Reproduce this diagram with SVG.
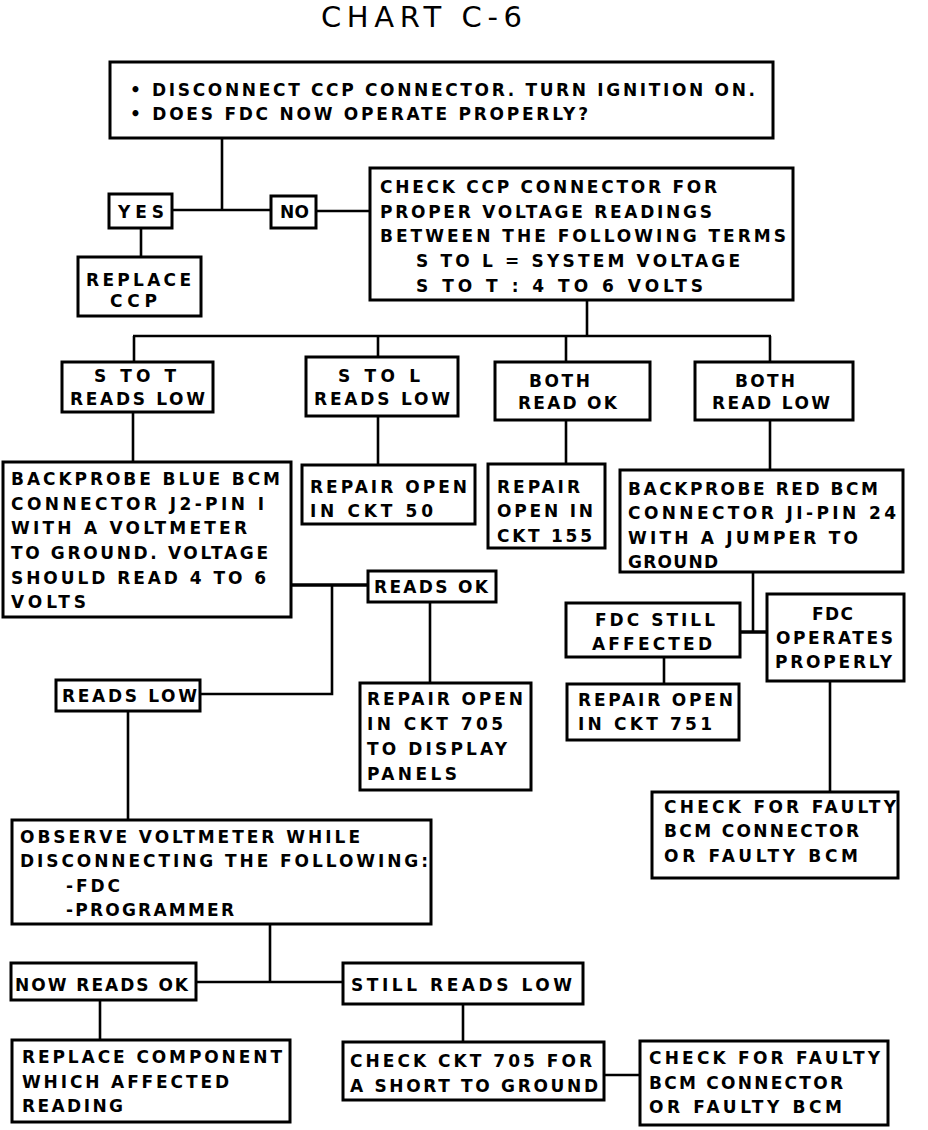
<svg xmlns="http://www.w3.org/2000/svg" width="928" height="1130" viewBox="0 0 928 1130">
<style>
rect.b{fill:#fff;stroke:#000;stroke-width:3}
.c line,.c polyline{stroke:#000;stroke-width:2.6;fill:none}
text{font-family:"DejaVu Sans","Liberation Sans",sans-serif;font-weight:bold;font-size:17px;fill:#000}
text.t{font-weight:normal;font-size:29px}
</style>
<rect width="928" height="1130" fill="#fff"/>
<text class="t" x="321" y="27" textLength="201" lengthAdjust="spacing">CHART C-6</text>
<g class="c" id="connectors">
<line x1="222" y1="138" x2="222" y2="210"/>
<line x1="172" y1="210" x2="271" y2="210"/>
<line x1="316" y1="211" x2="370" y2="211"/>
<line x1="141" y1="228" x2="141" y2="257"/>
<line x1="587" y1="300" x2="587" y2="336"/>
<line x1="133" y1="336" x2="771" y2="336"/>
<line x1="134" y1="336" x2="134" y2="362"/>
<line x1="378" y1="336" x2="378" y2="357"/>
<line x1="566" y1="336" x2="566" y2="362"/>
<line x1="770" y1="336" x2="770" y2="362"/>
<line x1="133" y1="412" x2="133" y2="462"/>
<line x1="378" y1="416" x2="378" y2="465"/>
<line x1="566" y1="420" x2="566" y2="464"/>
<line x1="770" y1="420" x2="770" y2="470"/>
<line x1="291" y1="585" x2="368" y2="585" style="stroke-width:3.5"/>
<polyline points="332,585 332,694 200,694"/>
<line x1="430" y1="602" x2="430" y2="683"/>
<line x1="753" y1="572" x2="753" y2="632"/>
<line x1="740" y1="632" x2="767" y2="632" style="stroke-width:3.5"/>
<line x1="664" y1="657" x2="664" y2="684"/>
<line x1="830" y1="681" x2="830" y2="792"/>
<line x1="128" y1="711" x2="128" y2="820"/>
<line x1="270" y1="924" x2="270" y2="982"/>
<line x1="196" y1="982" x2="343" y2="982"/>
<line x1="100" y1="1000" x2="100" y2="1040"/>
<line x1="463" y1="1004" x2="463" y2="1042"/>
<line x1="604" y1="1075" x2="640" y2="1075"/>
</g>
<g id="n1"><rect class="b" x="110" y="62" width="663" height="76"/>
<text x="130" y="96" textLength="625" lengthAdjust="spacing">• DISCONNECT CCP CONNECTOR. TURN IGNITION ON.</text>
<text x="130" y="120" textLength="458" lengthAdjust="spacing">• DOES FDC NOW OPERATE PROPERLY?</text></g>
<g id="yes"><rect class="b" x="109" y="194" width="63" height="34"/>
<text x="118" y="218" textLength="46" lengthAdjust="spacing">YES</text></g>
<g id="no"><rect class="b" x="271" y="196" width="45" height="32"/>
<text x="280" y="218" textLength="29" lengthAdjust="spacing">NO</text></g>
<g id="replace-ccp"><rect class="b" x="78" y="257" width="123" height="59"/>
<text x="86" y="286" textLength="105" lengthAdjust="spacing">REPLACE</text>
<text x="110" y="307" textLength="47" lengthAdjust="spacing">CCP</text></g>
<g id="check-ccp"><rect class="b" x="370" y="168" width="423" height="132"/>
<text x="380" y="193" textLength="337" lengthAdjust="spacing">CHECK CCP CONNECTOR FOR</text>
<text x="380" y="218" textLength="332" lengthAdjust="spacing">PROPER VOLTAGE READINGS</text>
<text x="380" y="242" textLength="406" lengthAdjust="spacing">BETWEEN THE FOLLOWING TERMS</text>
<text x="416" y="267" textLength="324" lengthAdjust="spacing">S TO L = SYSTEM VOLTAGE</text>
<text x="416" y="292" textLength="287" lengthAdjust="spacing">S TO T : 4 TO 6 VOLTS</text></g>
<g id="stot"><rect class="b" x="62" y="362" width="151" height="50"/>
<text x="94" y="382" textLength="82" lengthAdjust="spacing">S TO T</text>
<text x="70" y="405" textLength="135" lengthAdjust="spacing">READS LOW</text></g>
<g id="stol"><rect class="b" x="306" y="357" width="152" height="59"/>
<text x="338" y="382" textLength="82" lengthAdjust="spacing">S TO L</text>
<text x="314" y="405" textLength="136" lengthAdjust="spacing">READS LOW</text></g>
<g id="both-ok"><rect class="b" x="495" y="362" width="155" height="58"/>
<text x="529" y="387" textLength="61" lengthAdjust="spacing">BOTH</text>
<text x="518" y="409" textLength="99" lengthAdjust="spacing">READ OK</text></g>
<g id="both-low"><rect class="b" x="695" y="362" width="158" height="58"/>
<text x="735" y="387" textLength="60" lengthAdjust="spacing">BOTH</text>
<text x="712" y="409" textLength="118" lengthAdjust="spacing">READ LOW</text></g>
<g id="backprobe-blue"><rect class="b" x="3" y="462" width="288" height="155"/>
<text x="11" y="485" textLength="269" lengthAdjust="spacing">BACKPROBE BLUE BCM</text>
<text x="11" y="510" textLength="253" lengthAdjust="spacing">CONNECTOR J2-PIN I</text>
<text x="11" y="534" textLength="236" lengthAdjust="spacing">WITH A VOLTMETER</text>
<text x="11" y="559" textLength="257" lengthAdjust="spacing">TO GROUND. VOLTAGE</text>
<text x="11" y="584" textLength="255" lengthAdjust="spacing">SHOULD READ 4 TO 6</text>
<text x="11" y="608" textLength="75" lengthAdjust="spacing">VOLTS</text></g>
<g id="ckt50"><rect class="b" x="302" y="465" width="173" height="59"/>
<text x="310" y="493" textLength="157" lengthAdjust="spacing">REPAIR OPEN</text>
<text x="310" y="517" textLength="123" lengthAdjust="spacing">IN CKT 50</text></g>
<g id="ckt155"><rect class="b" x="488" y="464" width="117" height="84"/>
<text x="497" y="493" textLength="83" lengthAdjust="spacing">REPAIR</text>
<text x="497" y="517" textLength="96" lengthAdjust="spacing">OPEN IN</text>
<text x="497" y="542" textLength="95" lengthAdjust="spacing">CKT 155</text></g>
<g id="backprobe-red"><rect class="b" x="620" y="470" width="283" height="102"/>
<text x="628" y="495" textLength="250" lengthAdjust="spacing">BACKPROBE RED BCM</text>
<text x="628" y="519" textLength="268" lengthAdjust="spacing">CONNECTOR JI-PIN 24</text>
<text x="628" y="544" textLength="230" lengthAdjust="spacing">WITH A JUMPER TO</text>
<text x="628" y="568" textLength="90" lengthAdjust="spacing">GROUND</text></g>
<g id="reads-ok"><rect class="b" x="368" y="571" width="128" height="31"/>
<text x="374" y="593" textLength="114" lengthAdjust="spacing">READS OK</text></g>
<g id="ckt705"><rect class="b" x="360" y="683" width="171" height="107"/>
<text x="367" y="705" textLength="156" lengthAdjust="spacing">REPAIR OPEN</text>
<text x="367" y="730" textLength="136" lengthAdjust="spacing">IN CKT 705</text>
<text x="367" y="755" textLength="140" lengthAdjust="spacing">TO DISPLAY</text>
<text x="367" y="780" textLength="90" lengthAdjust="spacing">PANELS</text></g>
<g id="fdc-still"><rect class="b" x="566" y="603" width="174" height="54"/>
<text x="595" y="626" textLength="120" lengthAdjust="spacing">FDC STILL</text>
<text x="592" y="650" textLength="120" lengthAdjust="spacing">AFFECTED</text></g>
<g id="fdc-ok"><rect class="b" x="767" y="594" width="137" height="87"/>
<text x="812" y="620" textLength="41" lengthAdjust="spacing">FDC</text>
<text x="776" y="644" textLength="117" lengthAdjust="spacing">OPERATES</text>
<text x="775" y="668" textLength="117" lengthAdjust="spacing">PROPERLY</text></g>
<g id="ckt751"><rect class="b" x="567" y="684" width="172" height="56"/>
<text x="578" y="706" textLength="155" lengthAdjust="spacing">REPAIR OPEN</text>
<text x="578" y="730" textLength="134" lengthAdjust="spacing">IN CKT 751</text></g>
<g id="check-bcm1"><rect class="b" x="652" y="792" width="246" height="86"/>
<text x="664" y="813" textLength="232" lengthAdjust="spacing">CHECK FOR FAULTY</text>
<text x="664" y="837" textLength="195" lengthAdjust="spacing">BCM CONNECTOR</text>
<text x="664" y="862" textLength="194" lengthAdjust="spacing">OR FAULTY BCM</text></g>
<g id="reads-low"><rect class="b" x="56" y="680" width="144" height="31"/>
<text x="62" y="702" textLength="135" lengthAdjust="spacing">READS LOW</text></g>
<g id="observe"><rect class="b" x="12" y="820" width="419" height="104"/>
<text x="20" y="843" textLength="340" lengthAdjust="spacing">OBSERVE VOLTMETER WHILE</text>
<text x="20" y="867" textLength="408" lengthAdjust="spacing">DISCONNECTING THE FOLLOWING:</text>
<text x="66" y="892" textLength="54" lengthAdjust="spacing">-FDC</text>
<text x="66" y="916" textLength="168" lengthAdjust="spacing">-PROGRAMMER</text></g>
<g id="now-ok"><rect class="b" x="11" y="963" width="185" height="37"/>
<text x="15" y="991" textLength="173" lengthAdjust="spacing">NOW READS OK</text></g>
<g id="still-low"><rect class="b" x="343" y="963" width="240" height="41"/>
<text x="351" y="991" textLength="221" lengthAdjust="spacing">STILL READS LOW</text></g>
<g id="replace-comp"><rect class="b" x="12" y="1040" width="278" height="82"/>
<text x="22" y="1063" textLength="260" lengthAdjust="spacing">REPLACE COMPONENT</text>
<text x="22" y="1088" textLength="207" lengthAdjust="spacing">WHICH AFFECTED</text>
<text x="22" y="1112" textLength="101" lengthAdjust="spacing">READING</text></g>
<g id="check-705"><rect class="b" x="343" y="1042" width="261" height="58"/>
<text x="350" y="1067" textLength="242" lengthAdjust="spacing">CHECK CKT 705 FOR</text>
<text x="350" y="1092" textLength="248" lengthAdjust="spacing">A SHORT TO GROUND</text></g>
<g id="check-bcm2"><rect class="b" x="640" y="1041" width="248" height="84"/>
<text x="649" y="1064" textLength="231" lengthAdjust="spacing">CHECK FOR FAULTY</text>
<text x="649" y="1089" textLength="194" lengthAdjust="spacing">BCM CONNECTOR</text>
<text x="649" y="1113" textLength="193" lengthAdjust="spacing">OR FAULTY BCM</text></g>
</svg>
